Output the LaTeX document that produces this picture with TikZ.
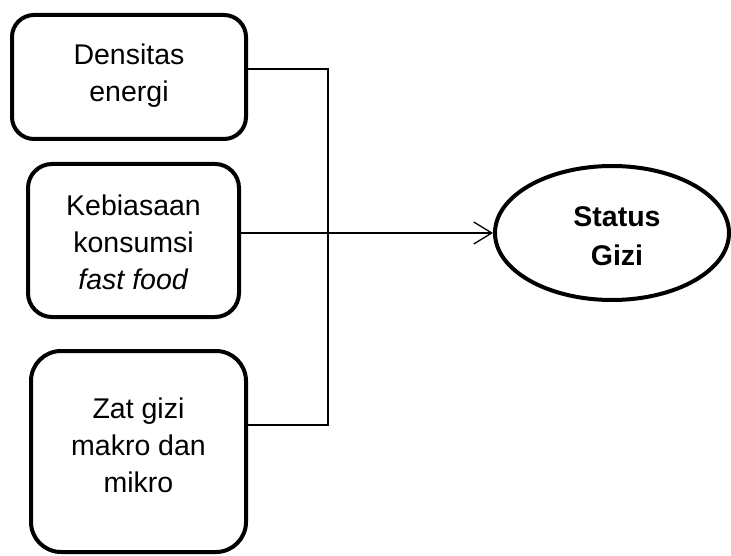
\documentclass[tikz,border=0pt]{standalone}
\usepackage{fontspec}
\setmainfont{Liberation Sans}
\usetikzlibrary{arrows.meta,shapes.geometric}
\begin{document}
\begin{tikzpicture}[x=1pt,y=-1pt,
  box/.style={draw, line width=4pt, rounded corners=22pt, inner sep=0pt},
  txt/.style={align=center, font=\fontsize{28.5}{37}\selectfont},
  conn/.style={line width=1.3pt},
  ]
\useasboundingbox (0,0) rectangle (731,556);
\node[box, minimum width=234pt, minimum height=124pt] (b1) at (129,77) {};
\node[txt] (t1) at (129,76) {Densitas\\energi};
\node[box, minimum width=211pt, minimum height=153pt, rounded corners=24pt] (b2) at (133.5,240.5) {};
\node[txt] (t2) at (133.5,242) {Kebiasaan\\konsumsi\\\textit{fast food}};
\node[box, minimum width=215pt, minimum height=201pt, rounded corners=30pt] (b3) at (138.5,451.5) {};
\node[txt] (t3) at (138.5,445) {Zat gizi\\makro dan\\mikro};
\node[draw, ellipse, line width=4pt, minimum width=234pt, minimum height=134pt, inner sep=0pt] (e) at (612,233) {};
\node[txt, font=\bfseries\fontsize{28.5}{39}\selectfont] (te) at (617,236) {Status\\Gizi};
\coordinate (j1) at (328,69);
\coordinate (j2) at (328,233);
\coordinate (j3) at (328,425);
\draw[conn] (j1 -| b1.east) -- (j1) -- (j3) -- (j3 -| b3.east);
\draw[conn, -{Straight Barb[length=18pt,width=22pt,line width=1.3pt]}] (j2 -| b2.east) -- (e.west);
\end{tikzpicture}
\end{document}
